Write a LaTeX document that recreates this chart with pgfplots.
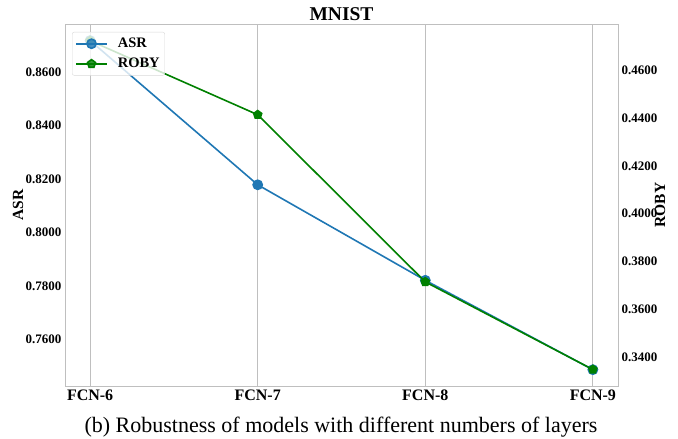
\documentclass[border=0pt]{standalone}
\usepackage{fontspec}
\setmainfont{Liberation Serif}
\usepackage{pgfplots}
\pgfplotsset{compat=1.18}
\definecolor{asrblue}{HTML}{1F77B4}
\definecolor{robygreen}{HTML}{008000}
\definecolor{framegray}{HTML}{BFBFBF}
\begin{document}
\begin{tikzpicture}[x=1pt,y=1pt]
\useasboundingbox (0,0) rectangle (678,439);
\pgfplotsset{
  common/.style={
    scale only axis, width=553pt, height=362pt,
    at={(65pt,53pt)}, anchor=south west,
    xmin=-0.15, xmax=3.15, xtick={0,1,2,3},
    axis line style={draw=framegray, line width=0.8pt},
    tick style={draw=none}, major tick length=0pt,
    /pgf/number format/assume math mode=true,
    yticklabel style={font=\bfseries\fontsize{13}{15}\selectfont,
      /pgf/number format/.cd, fixed, fixed zerofill, precision=4},
    xticklabel style={font=\bfseries\fontsize{16}{18}\selectfont},
    ylabel style={font=\bfseries\fontsize{15.5}{17}\selectfont, anchor=center},
  },
  asrstyle/.style={color=asrblue, line width=1.6pt, mark=*, mark size=4.6pt, mark options={solid}},
  robystyle/.style={color=robygreen, line width=1.6pt, mark=pentagon*, mark size=4.2pt, mark options={solid}},
}
\begin{axis}[common,
  ymin=0.7426, ymax=0.8779,
  ytick={0.76,0.78,0.80,0.82,0.84,0.86},
  xticklabels={FCN-6,FCN-7,FCN-8,FCN-9},
  xmajorgrids, grid style={draw=framegray, line width=0.8pt},
  ylabel={ASR},
  ylabel style={at={(axis description cs:-0.085,0.5)}},
  title={MNIST},
  title style={font=\bfseries\fontsize{19.5}{21}\selectfont, at={(axis description cs:0.5,1)}, anchor=south, yshift=-6pt},
]
\addplot[asrstyle] coordinates {(0,0.8717) (1,0.8178) (2,0.7821) (3,0.7487)};
\end{axis}
\begin{axis}[common,
  axis y line*=right, axis x line=none,
  ymin=0.3278, ymax=0.4794,
  ytick={0.34,0.36,0.38,0.40,0.42,0.44,0.46},
  ylabel={ROBY},
  ylabel style={at={(axis description cs:1.076,0.5)}},
  legend style={at={(axis description cs:0.0127,0.978)}, anchor=north west,
    draw=framegray!60, rounded corners=2pt, fill=white, fill opacity=0.8, text opacity=1,
    font=\bfseries\fontsize{14.5}{16}\selectfont, row sep=5pt, inner xsep=3pt, inner ysep=4pt},
  legend cell align=left,
  legend image code/.code={\draw[mark repeat=2,mark phase=2] plot coordinates {(0pt,0pt) (15.5pt,0pt) (31pt,0pt)}; \path (39pt,0pt);},
]
\addlegendimage{asrstyle}
\addlegendentry{ASR}
\addplot[robystyle] coordinates {(0,0.4724) (1,0.4414) (2,0.3714) (3,0.3347)};
\addlegendentry{ROBY}
\end{axis}
\node[font=\fontsize{22}{24}\selectfont] at (341,12) {(b) Robustness of models with different numbers of layers};
\end{tikzpicture}
\end{document}
